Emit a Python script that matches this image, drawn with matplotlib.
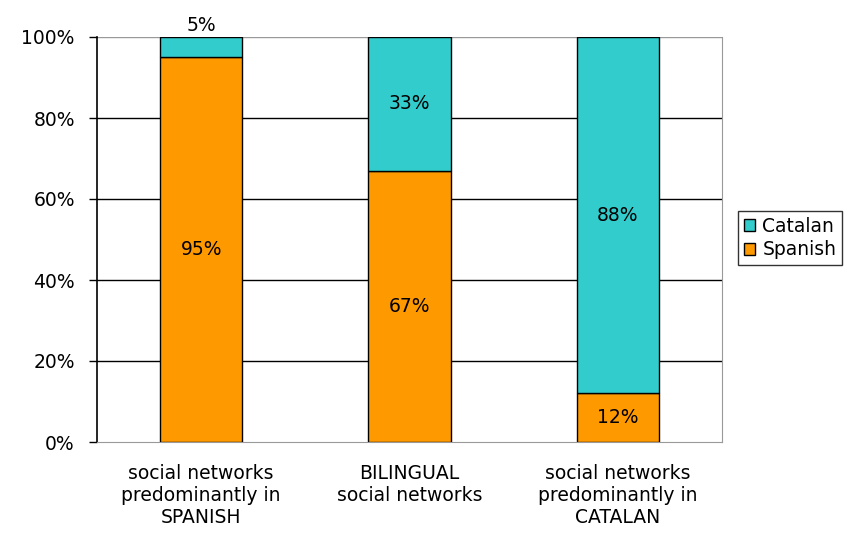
import matplotlib
matplotlib.use("Agg")
import matplotlib.pyplot as plt
from matplotlib.ticker import FuncFormatter

categories = ["social networks\npredominantly in\nSPANISH", "BILINGUAL\nsocial networks",
              "social networks\npredominantly in\nCATALAN"]
spanish = [95, 67, 12]
catalan = [5, 33, 88]
yticks = [0, 20, 40, 60, 80, 100]

fig = plt.figure(figsize=(8.6, 5.35), dpi=100)
ax = fig.add_axes([97/860, 1-442/535, (722-97)/860, (442-37)/535])
x = list(range(len(categories)))
w = 0.395
fs = 13.5
ax.bar(x, spanish, w, color="#FF9900", edgecolor="black", linewidth=1, label="Spanish", zorder=3)
ax.bar(x, catalan, w, bottom=spanish, color="#33CCCC", edgecolor="black", linewidth=1, label="Catalan", zorder=3)

for i in x:
    ax.text(i, spanish[i]/2, f"{spanish[i]}%", ha="center", va="center", fontsize=fs, zorder=4)
    if catalan[i] < 10:
        ax.text(i, 100.5, f"{catalan[i]}%", ha="center", va="bottom", fontsize=fs, zorder=4)
    else:
        ax.text(i, spanish[i] + catalan[i]/2, f"{catalan[i]}%", ha="center", va="center", fontsize=fs, zorder=4)

ax.set_xlim(-0.5, 2.5)
ax.set_ylim(0, 100)
ax.set_yticks(yticks)
ax.yaxis.set_major_formatter(FuncFormatter(lambda v, p: f"{int(v)}%"))
for v in yticks[1:-1]:
    ax.axhline(v, color="black", linewidth=1, zorder=1)
ax.axhline(100, color="#999999", linewidth=1, zorder=1)
ax.set_xticks(x)
ax.set_xticklabels(categories, fontsize=fs, linespacing=1.2)
ax.tick_params(axis="x", length=0, pad=16)
ax.tick_params(axis="y", labelsize=fs, length=6, width=1, pad=10)
ax.spines["left"].set_color("black")
ax.spines["left"].set_linewidth(1.2)
ax.spines["bottom"].set_color("#999999")
ax.spines["right"].set_color("#999999")
ax.spines["top"].set_visible(False)

h, l = ax.get_legend_handles_labels()
leg = fig.legend(h[::-1], l[::-1], loc="center left", bbox_to_anchor=(738/860, 1-238/535),
                 fontsize=fs, frameon=True, fancybox=False, edgecolor="black",
                 handlelength=0.6, handleheight=0.6, handletextpad=0.4, borderpad=0.3,
                 labelspacing=0.25, borderaxespad=0)
leg.get_frame().set_linewidth(1)
fig.savefig("out.png", dpi=100)
